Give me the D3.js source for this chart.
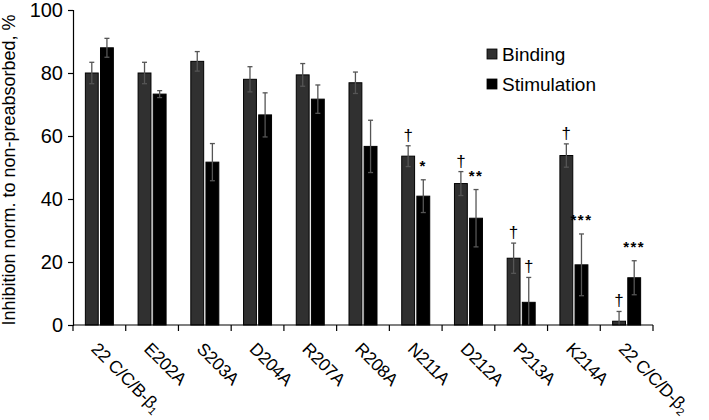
<!DOCTYPE html>
<html><head><meta charset="utf-8">
<script src="https://cdn.jsdelivr.net/npm/d3@7"></script>
<style>body{margin:0;background:#fff}svg{display:block;font-family:"Liberation Sans",Arial,sans-serif}</style>
</head><body><svg id="c" width="709" height="420"></svg>
<script>
const categories = ["22 C/C/B-β1","E202A","S203A","D204A","R207A","R208A","N211A","D212A","P213A","K214A","22 C/C/D-β2"];
const series = ["Binding","Stimulation"];
const binding = [80,80,83.7,78,79.4,76.9,53.6,44.9,21.2,53.8,1.2];
const bindingErr = [3.4,3.4,3.1,4,3.6,3.4,3.3,3.8,4.8,3.7,3.1];
const stimulation = [88,73.3,51.7,66.7,71.7,56.7,40.9,33.9,7.2,19.1,15];
const stimulationErr = [3,1.1,5.9,7,4.5,8.3,5.2,9.1,7.9,9.8,5.4];
const bindingMarks = ["","","","","","","†","†","†","†","†"];
const stimulationMarks = ["","","","","","","*","**","†","***","***"];
const yTicks = [0,20,40,60,80,100];

const svg = d3.select("#c");
const m = {l:73, r:56, t:10, b:95};
const W = 709, H = 420;
const x0 = d3.scaleBand().domain(categories).range([m.l, W - m.r]).padding(0);
const y = d3.scaleLinear().domain([0,100]).range([H - m.b, m.t]);
const bw = x0.bandwidth();
const x1 = d3.scaleBand().domain(series).range([bw/2 - 14, bw/2 + 14]).paddingInner(0.15);
const colors = {Binding:"#303030", Stimulation:"#000"};

const data = categories.map((c,i)=>({c, vals:[
  {s:"Binding", v:binding[i], e:bindingErr[i], mark:bindingMarks[i]},
  {s:"Stimulation", v:stimulation[i], e:stimulationErr[i], mark:stimulationMarks[i]}]}));

const g = svg.selectAll("g.cat").data(data).enter().append("g")
  .attr("transform", d=>`translate(${x0(d.c)},0)`);
const items = g.selectAll("g.it").data(d=>d.vals).enter().append("g");
items.append("rect")
  .attr("x", d=>x1(d.s)).attr("width", x1.bandwidth())
  .attr("y", d=>y(d.v)).attr("height", d=>y(0)-y(d.v))
  .attr("fill", d=>colors[d.s]).attr("stroke","#000").attr("stroke-width",1);
// error bars
const ec = "#555";
items.append("line")
  .attr("x1", d=>x1(d.s)+x1.bandwidth()/2).attr("x2", d=>x1(d.s)+x1.bandwidth()/2)
  .attr("y1", d=>y(Math.max(0,d.v-d.e))).attr("y2", d=>y(d.v+d.e))
  .attr("stroke", ec).attr("stroke-width",1.3);
items.append("line")
  .attr("x1", d=>x1(d.s)+x1.bandwidth()/2-2.5).attr("x2", d=>x1(d.s)+x1.bandwidth()/2+2.5)
  .attr("y1", d=>y(d.v+d.e)).attr("y2", d=>y(d.v+d.e))
  .attr("stroke", ec).attr("stroke-width",1.3);
items.filter(d=>d.v-d.e>0).append("line")
  .attr("x1", d=>x1(d.s)+x1.bandwidth()/2-2.5).attr("x2", d=>x1(d.s)+x1.bandwidth()/2+2.5)
  .attr("y1", d=>y(d.v-d.e)).attr("y2", d=>y(d.v-d.e))
  .attr("stroke", ec).attr("stroke-width",1.3);
// significance marks
items.filter(d=>d.mark).append("text")
  .attr("x", d=>x1(d.s)+x1.bandwidth()/2)
  .attr("y", d=>y(d.v+d.e) - (d.mark==="†" ? 5 : 9))
  .attr("text-anchor","middle")
  .attr("font-size", d=>d.mark==="†" ? 17 : 15)
  .attr("font-weight", d=>d.mark==="†" ? "normal" : "bold")
  .attr("letter-spacing", d=>d.mark==="†" ? 0 : 1.5)
  .attr("fill","#000")
  .text(d=>d.mark);

// y axis
const ya = svg.append("g").attr("transform",`translate(${m.l},0)`)
  .call(d3.axisLeft(y).tickValues(yTicks).tickSize(5).tickPadding(5));
ya.select(".domain").attr("stroke","#000").attr("stroke-width",1.2);
ya.selectAll(".tick line").attr("stroke","#000").attr("stroke-width",1.2);
ya.selectAll(".tick text").attr("font-size",20).attr("fill","#000").attr("font-family","Liberation Sans, Arial, sans-serif");

// x axis
const xa = svg.append("g").attr("transform",`translate(0,${y(0)})`);
xa.append("line").attr("x1",m.l).attr("x2",W-m.r).attr("stroke","#000").attr("stroke-width",1.2);
const bounds = categories.map(c=>x0(c)).concat([x0(categories[categories.length-1])+bw]);
xa.selectAll("line.t").data(bounds).enter().append("line")
  .attr("x1",d=>d).attr("x2",d=>d).attr("y1",0).attr("y2",6)
  .attr("stroke","#000").attr("stroke-width",1.2);
const lab = xa.selectAll("text.l").data(categories).enter().append("text")
  .attr("transform", d=>`translate(${x0(d)+bw/2-9},${25}) rotate(45)`)
  .attr("font-size",17.5).attr("letter-spacing",-0.3).attr("fill","#000");
lab.each(function(d){
  const t = d3.select(this);
  const m2 = d.match(/^(.*β)(\d)$/);
  if (m2) {
    t.append("tspan").text(m2[1]);
    t.append("tspan").attr("font-size",11).attr("dy",3).text(m2[2]);
  } else t.text(d);
});

// y title
svg.append("text").attr("transform",`translate(15,${170}) rotate(-90)`)
  .attr("text-anchor","middle").attr("font-size",18).attr("fill","#000")
  .text("Inhibition norm. to non-preabsorbed, %");

// legend
const lg = svg.append("g").attr("transform","translate(487,49)");
series.forEach((s,i)=>{
  const r = lg.append("g").attr("transform",`translate(0,${i*30})`);
  r.append("rect").attr("width",10).attr("height",10).attr("fill",colors[s]).attr("stroke","#000").attr("stroke-width",0.8);
  r.append("text").attr("x",15).attr("y",12).attr("font-size",19).attr("fill","#000").text(s);
});
</script></body></html>
